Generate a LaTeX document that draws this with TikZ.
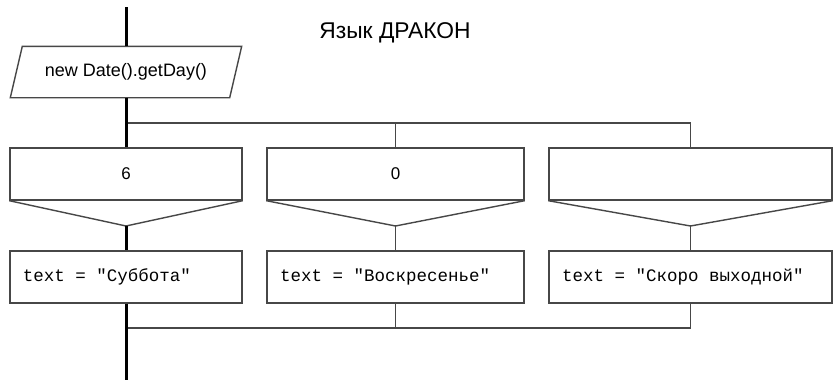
\documentclass[tikz,border=0pt]{standalone}
\usepackage{fontspec}
\setmainfont{Liberation Sans}
\setmonofont{Liberation Mono}
% fixed-width blank for the monospaced code lines
\newcommand{\msp}{\hbox to 0.6em{}}
\begin{document}
\begin{tikzpicture}[x=1pt,y=-1pt,
  linec/.style={draw=black!72},
  thinline/.style={linec, line width=1.4pt},
  spine/.style={draw=black, line width=3pt},
  box/.style={draw=black!72, line width=1.4pt, fill=white, minimum height=52pt, inner sep=0pt},
  casebox/.style={box, font=\fontsize{17}{20}\selectfont},
  actbox/.style={box, font=\ttfamily\fontsize{17.5}{20}\selectfont, align=left, inner xsep=13pt},
]
\useasboundingbox (0,0) rectangle (838,380);
\fill[white] (0,0) rectangle (838,380);

% title
\node[font=\fontsize{22.8}{26}\selectfont] (title) at (395,33) {Язык ДРАКОН};

% switch question (parallelogram)
\node[minimum width=219pt, minimum height=51pt, inner sep=0pt] (q) at (126,72) {};
\draw[box] ([xshift=6pt]q.north west) -- ([xshift=6pt]q.north east)
  -- ([xshift=-6pt]q.south east) -- ([xshift=-6pt]q.south west) -- cycle;
\node[font=\fontsize{18}{20}\selectfont] (qtext) at (q) {new Date().getDay()};

% case boxes
\node[casebox, minimum width=232pt] (c1) at (126,174) {6};
\node[casebox, minimum width=257pt] (c2) at (395.5,174) {0};
\node[casebox, minimum width=283pt] (c3) at (690.5,174) {};
\coordinate (v1) at (126,226);
\coordinate (v2) at (395.5,226);
\coordinate (v3) at (690.5,226);
\foreach \c/\v in {c1/v1,c2/v2,c3/v3}
  \draw[thinline, line join=miter] (\c.south west) -- (\v) -- (\c.south east);

% action boxes
\node[actbox, minimum width=232pt, text width=206pt] (a1) at (126,277) {text\msp=\msp"Суббота"};
\node[actbox, minimum width=257pt, text width=231pt] (a2) at (395.5,277) {text\msp=\msp"Воскресенье"};
\node[actbox, minimum width=283pt, text width=257pt] (a3) at (690.5,277) {text\msp=\msp"Скоро\msp выходной"};

% fork and join points
\coordinate (top) at (126,7);
\coordinate (fork) at (126,123);
\coordinate (join) at (126,328);
\coordinate (bottom) at (126,380);

% branch connectors
\draw[thinline] (fork) -- (fork -| c3.north) -- (c3.north);
\draw[thinline] (fork -| c2.north) -- (c2.north);
\draw[thinline] (v2) -- (a2.north);
\draw[thinline] (v3) -- (a3.north);
\draw[thinline] (a3.south) -- (join -| a3.south) -- (join);
\draw[thinline] (a2.south) -- (join -| a2.south);

% main line
\draw[spine] (top) -- (q.north);
\draw[spine] (q.south) -- (c1.north);
\draw[spine] (v1) -- (a1.north);
\draw[spine] (a1.south) -- (bottom);
\end{tikzpicture}
\end{document}
